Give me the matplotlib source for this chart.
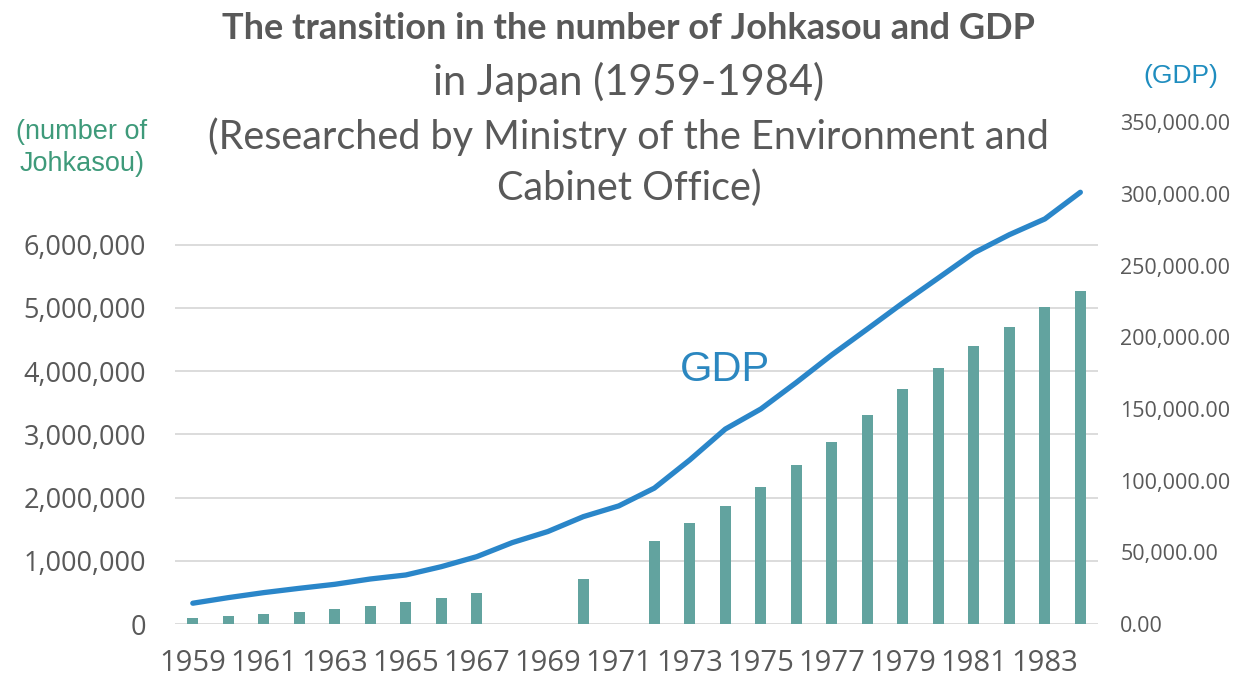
import matplotlib.pyplot as plt
from matplotlib.ticker import FuncFormatter

years = list(range(1959, 1985))
# number of Johkasou (None = no data)
johkasou = [95000, 120000, 160000, 190000, 240000, 285000, 340000, 410000, 490000,
            None, None, 710000, None, 1310000, 1590000, 1860000, 2170000, 2510000,
            2880000, 3300000, 3710000, 4040000, 4400000, 4700000, 5010000, 5270000]
gdp = [14500, 18400, 21900, 24900, 27700, 31400, 34200, 40000, 47000, 56800,
       64500, 74900, 82400, 94800, 114500, 136000, 150000, 168500, 187800, 205800,
       224000, 241400, 258900, 271600, 282600, 301200]
left_ticks = [0, 1000000, 2000000, 3000000, 4000000, 5000000, 6000000]
right_ticks = [0, 50000, 100000, 150000, 200000, 250000, 300000, 350000]

grey = '#595959'
plt.rcParams['font.family'] = ['Open Sans', 'DejaVu Sans']

fig = plt.figure(figsize=(12.38, 6.81), dpi=100)
ax = fig.add_axes([0.1414, 0.0837, 0.7456, 0.743])
ax2 = ax.twinx()

x = list(range(len(years)))
bx = [i for i, v in zip(x, johkasou) if v is not None]
bv = [v for v in johkasou if v is not None]
ax.bar(bx, bv, width=0.31, color='#62A39F', zorder=2)
ax.set_xlim(-0.5, len(years) - 0.5)
ax.set_ylim(0, 8000000)
ax.set_yticks(left_ticks)
ax.yaxis.set_major_formatter(FuncFormatter(lambda v, p: f'{int(v):,}'))
ax.set_xticks(x[::2])
ax.set_xticklabels([str(y) for y in years[::2]])
ax.grid(axis='y', color='#D9D9D9', linewidth=1.3, zorder=0)
ax.set_axisbelow(True)
ax.tick_params(axis='y', length=0, labelsize=19.5, colors=grey, pad=21)
ax.tick_params(axis='x', length=0, labelsize=21, colors=grey, pad=18)
for s in ax.spines.values():
    s.set_visible(False)

ax2.plot(x, gdp, color='#2A86C9', linewidth=3.8, solid_capstyle='round', zorder=3)
ax2.set_ylim(0, 353000)
ax2.set_yticks(right_ticks)
ax2.yaxis.set_major_formatter(FuncFormatter(lambda v, p: f'{v:,.2f}'))
ax2.tick_params(axis='y', length=0, labelsize=15.5, colors=grey, pad=16)
for s in ax2.spines.values():
    s.set_visible(False)

ax2.text(15.0, 177000, 'GDP', fontsize=30, color='#2B87C0',
         family=['Liberation Sans'], ha='center', va='center')

fig.text(0.508, 0.958, 'The transition in the number of Johkasou and GDP',
         fontsize=26, fontweight='bold', color=grey, ha='center', va='center', family=['Lato'])
fig.text(0.508, 0.879, 'in Japan (1959-1984)', fontsize=30, color=grey,
         ha='center', va='center', family=['Lato'])
fig.text(0.508, 0.799, '(Researched by Ministry of the Environment and', fontsize=28.5,
         color=grey, ha='center', va='center', family=['Lato'])
fig.text(0.508, 0.723, 'Cabinet Office)', fontsize=28.5, color=grey,
         ha='center', va='center', family=['Lato'])
fig.text(0.066, 0.782, '(number of\nJohkasou)', fontsize=19.5, color='#3E9A7A',
         ha='center', va='center', family=['Liberation Sans'], linespacing=1.3)
fig.text(0.954, 0.888, '(GDP)', fontsize=19, color='#1F8DBF',
         ha='center', va='center', family=['Liberation Sans'])

fig.savefig('out.png', dpi=100)
